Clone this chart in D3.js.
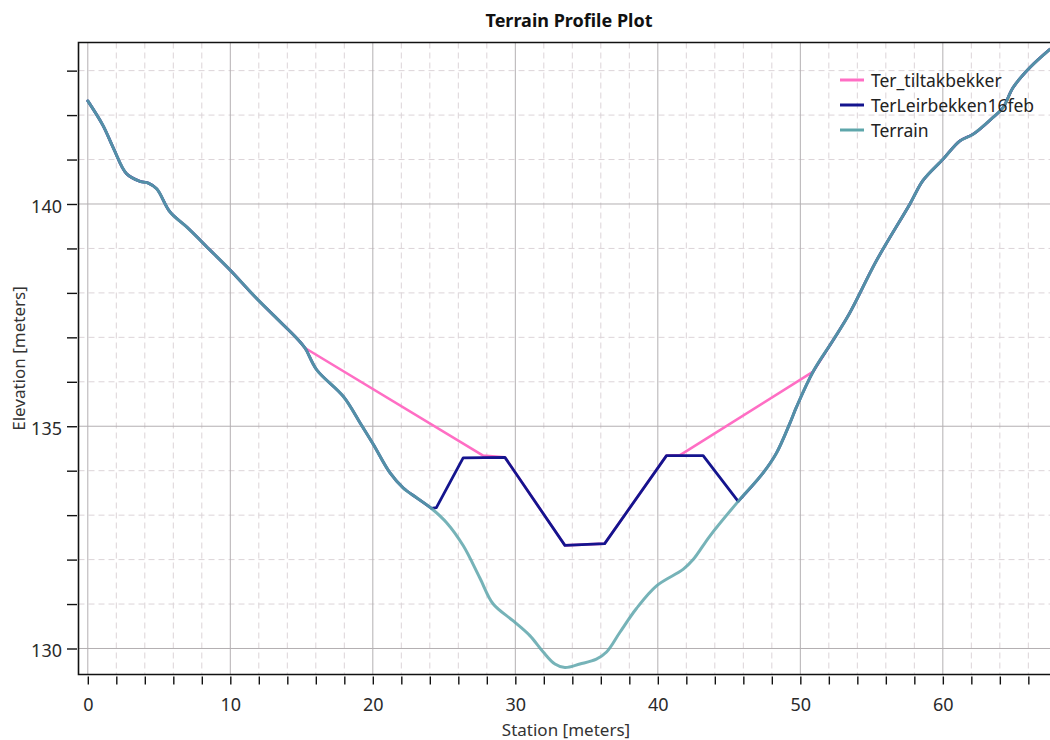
<!DOCTYPE html>
<html><head><meta charset="utf-8">
<script src="https://cdn.jsdelivr.net/npm/d3@7"></script>
<style>
html,body{margin:0;padding:0;background:#fff;}
svg{display:block;font-family:"Noto Sans",sans-serif;}
</style></head>
<body>
<svg id="chart" width="1050" height="740"></svg>
<script>
// ---- data ----
const title = "Terrain Profile Plot";
const xLabel = "Station [meters]";
const yLabel = "Elevation [meters]";
const seriesNames = ["Ter_tiltakbekker", "TerLeirbekken16feb", "Terrain"];
const seriesColors = ["#ff6ec4", "#14148e", "#5ea6ab"];

const terrainStation = [0, 1.06, 1.78, 2.72, 3.66, 4.25, 4.84, 5.77, 6.95, 8.59, 10.0, 11.62, 13.02, 14.66, 15.24, 16.06, 17.93, 19.1, 20.04, 21.21, 22.14, 23.08, 24.12, 25.18, 26.35, 27.52, 28.45, 29.86, 31.02, 31.96, 32.78, 33.48, 34.53, 35.69, 36.4, 37.33, 38.5, 39.91, 41.77, 42.48, 43.65, 45.64, 47.39, 48.33, 49.27, 49.74, 50.9, 52.31, 53.47, 55.35, 57.69, 58.61, 60.02, 61.2, 62.13, 63.53, 64.23, 64.93, 66.11, 67.51];
const terrainElev = [142.32, 141.77, 141.27, 140.68, 140.51, 140.47, 140.34, 139.82, 139.48, 138.96, 138.51, 137.95, 137.5, 136.98, 136.76, 136.27, 135.67, 135.08, 134.59, 133.95, 133.61, 133.39, 133.15, 132.83, 132.31, 131.58, 131.0, 130.62, 130.29, 129.92, 129.65, 129.57, 129.65, 129.76, 129.92, 130.36, 130.9, 131.41, 131.78, 132.0, 132.53, 133.31, 133.95, 134.4, 135.07, 135.44, 136.23, 136.94, 137.55, 138.73, 140.0, 140.53, 141.01, 141.42, 141.57, 141.95, 142.17, 142.62, 143.07, 143.48];

// TerLeirbekken16feb: channel section (terrain elsewhere)
const channelStation = [24.12, 24.46, 26.34, 29.27, 33.48, 36.27, 40.61, 43.18, 45.64];
const channelElev = [133.15, 133.17, 134.29, 134.3, 132.32, 132.36, 134.34, 134.34, 133.31];

// Ter_tiltakbekker: modified section (terrain elsewhere)
const tiltakStation = [15.24, 27.74, 29.27, 33.48, 36.27, 40.61, 41.56, 50.9];
const tiltakElev = [136.76, 134.34, 134.3, 132.32, 132.36, 134.34, 134.35, 136.23];

const xMajorTicks = [0, 10, 20, 30, 40, 50, 60];
const yMajorTicks = [130, 135, 140];

// ---- layout ----
const svg = d3.select("#chart");
const L = 78.5, R = 1050, T = 42.5, B = 674.5;
const x = d3.scaleLinear().domain([-0.653, 67.52]).range([L, R]);
const y = d3.scaleLinear().domain([129.415, 143.633]).range([B, T]);

const xMinor = d3.range(0, 68, 2);
const yMinor = d3.range(130, 144, 1);

svg.append("defs").append("clipPath").attr("id", "clip")
  .append("rect").attr("x", L).attr("y", T).attr("width", R - L).attr("height", B - T);

const grid = svg.append("g");
grid.selectAll(".vminor").data(xMinor.filter(d => !xMajorTicks.includes(d))).join("line")
  .attr("x1", d => x(d)).attr("x2", d => x(d)).attr("y1", T).attr("y2", B)
  .attr("stroke", "#dcd4d8").attr("stroke-width", 1).attr("stroke-dasharray", "6,4");
grid.selectAll(".hminor").data(yMinor.filter(d => !yMajorTicks.includes(d))).join("line")
  .attr("x1", L).attr("x2", R).attr("y1", d => y(d)).attr("y2", d => y(d))
  .attr("stroke", "#dcd4d8").attr("stroke-width", 1).attr("stroke-dasharray", "6,4");
grid.selectAll(".vmajor").data(xMajorTicks).join("line")
  .attr("x1", d => x(d)).attr("x2", d => x(d)).attr("y1", T).attr("y2", B)
  .attr("stroke", "#b4b0b2").attr("stroke-width", 1);
grid.selectAll(".hmajor").data(yMajorTicks).join("line")
  .attr("x1", L).attr("x2", R).attr("y1", d => y(d)).attr("y2", d => y(d))
  .attr("stroke", "#b4b0b2").attr("stroke-width", 1);

// ---- lines ----
const terrainPts = terrainStation.map((s, i) => [s, terrainElev[i]]);
const smooth = d3.line().x(d => x(d[0])).y(d => y(d[1])).curve(d3.curveCatmullRom.alpha(0.5));
const straight = d3.line().x(d => x(d[0])).y(d => y(d[1]));

function composite(secS, secE) {
  const sec = secS.map((s, i) => [s, secE[i]]);
  const a = secS[0], b = secS[secS.length - 1];
  const before = terrainPts.filter(p => p[0] <= a);
  const after = terrainPts.filter(p => p[0] >= b);
  return smooth(before) + straight(sec) + smooth(after);
}

const plot = svg.append("g").attr("clip-path", "url(#clip)");
plot.append("path").attr("d", composite(tiltakStation, tiltakElev))
  .attr("fill", "none").attr("stroke", seriesColors[0]).attr("stroke-width", 2.6)
  .attr("stroke-linejoin", "round").attr("stroke-linecap", "round");
plot.append("path").attr("d", composite(channelStation, channelElev))
  .attr("fill", "none").attr("stroke", seriesColors[1]).attr("stroke-width", 2.8)
  .attr("stroke-linejoin", "round").attr("stroke-linecap", "round");
plot.append("path").attr("d", smooth(terrainPts))
  .attr("fill", "none").attr("stroke", seriesColors[2]).attr("stroke-width", 3)
  .attr("stroke-opacity", 0.85)
  .attr("stroke-linejoin", "round").attr("stroke-linecap", "round");

// ---- frame ----
svg.append("path")
  .attr("d", `M${R + 5},${T} L${L},${T} L${L},${B} L${R + 5},${B}`)
  .attr("fill", "none").attr("stroke", "#111").attr("stroke-width", 1.6);

// ---- axes ----
const xAxis = svg.append("g").attr("transform", `translate(0,${B + 2})`)
  .call(d3.axisBottom(x).tickValues(xMinor).tickSize(8).tickPadding(14)
    .tickFormat(d => xMajorTicks.includes(d) ? d : ""));
const yAxis = svg.append("g").attr("transform", `translate(${L - 1.5},0)`)
  .call(d3.axisLeft(y).tickValues(yMinor).tickSize(10).tickPadding(5)
    .tickFormat(d => yMajorTicks.includes(d) ? d : ""));
[xAxis, yAxis].forEach(g => {
  g.select(".domain").remove();
  g.selectAll(".tick line").attr("stroke", "#111").attr("stroke-width", 1.4);
  g.selectAll(".tick text").attr("fill", "#2a2a2a").style("font-size", "18px")
    .style("font-family", "'Noto Sans', sans-serif");
});
yAxis.selectAll(".tick text").attr("dy", "0.45em");

// ---- titles ----
svg.append("text").attr("x", 569).attr("y", 27).attr("text-anchor", "middle")
  .style("font-size", "18px").style("font-weight", "bold").attr("fill", "#111")
  .text(title);
svg.append("text").attr("x", 566).attr("y", 736).attr("text-anchor", "middle")
  .style("font-size", "17px").attr("fill", "#333").text(xLabel);
svg.append("text").attr("transform", `translate(25,${(T + B) / 2}) rotate(-90)`)
  .attr("text-anchor", "middle").style("font-size", "17px").attr("fill", "#333").text(yLabel);

// ---- legend ----
const leg = svg.append("g").attr("transform", "translate(840,80)");
seriesNames.forEach((n, i) => {
  const g = leg.append("g").attr("transform", `translate(0,${i * 25})`);
  g.append("line").attr("x1", 0).attr("x2", 24).attr("y1", 0).attr("y2", 0)
    .attr("stroke", seriesColors[i]).attr("stroke-width", 3);
  g.append("text").attr("x", 31).attr("y", 6.5).style("font-size", "17.5px")
    .attr("fill", "#222").text(n);
});
</script>
</body></html>
